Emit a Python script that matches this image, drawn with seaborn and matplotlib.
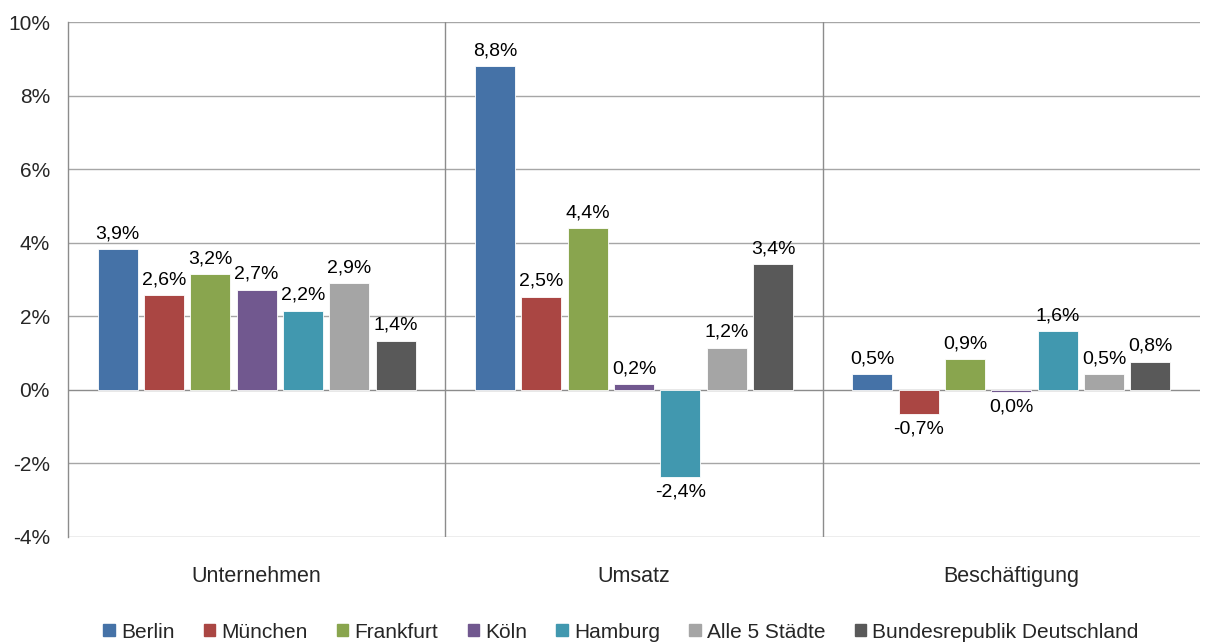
import matplotlib
matplotlib.use("Agg")
import matplotlib.pyplot as plt
import seaborn as sns
import pandas as pd

categories = ["Unternehmen", "Umsatz", "Beschäftigung"]
series = ["Berlin", "München", "Frankfurt", "Köln", "Hamburg", "Alle 5 Städte", "Bundesrepublik Deutschland"]
values = {
    "Berlin":                     [3.83, 8.80, 0.43],
    "München":                    [2.58, 2.53, -0.65],
    "Frankfurt":                  [3.15, 4.40, 0.84],
    "Köln":                       [2.72, 0.16, -0.05],
    "Hamburg":                    [2.15, -2.36, 1.60],
    "Alle 5 Städte":              [2.90, 1.14, 0.43],
    "Bundesrepublik Deutschland": [1.33, 3.42, 0.76],
}
labels = {
    "Berlin":                     ["3,9%", "8,8%", "0,5%"],
    "München":                    ["2,6%", "2,5%", "-0,7%"],
    "Frankfurt":                  ["3,2%", "4,4%", "0,9%"],
    "Köln":                       ["2,7%", "0,2%", "0,0%"],
    "Hamburg":                    ["2,2%", "-2,4%", "1,6%"],
    "Alle 5 Städte":              ["2,9%", "1,2%", "0,5%"],
    "Bundesrepublik Deutschland": ["1,4%", "3,4%", "0,8%"],
}
colors = ["#4572A7", "#AA4643", "#89A54E", "#71588F", "#4198AF", "#A5A5A5", "#595959"]
y_ticks = [-4, -2, 0, 2, 4, 6, 8, 10]
y_ticklabels = ["-4%", "-2%", "0%", "2%", "4%", "6%", "8%", "10%"]

rows = []
for s in series:
    for c, v in zip(categories, values[s]):
        rows.append({"Kategorie": c, "Stadt": s, "Wert": v})
df = pd.DataFrame(rows)

sns.set_theme(style="white")
plt.rcParams["font.family"] = ["Liberation Sans", "DejaVu Sans"]

fig = plt.figure(figsize=(12.05, 6.44), dpi=100)
ax = fig.add_axes([68/1205, 1-537/644, (1200-68)/1205, (537-22)/644])

sns.barplot(data=df, x="Kategorie", y="Wert", hue="Stadt", order=categories,
            hue_order=series, palette=colors, saturation=1, width=0.86, gap=0.14,
            ax=ax, legend=True, zorder=3, linewidth=0.6, edgecolor="#FFFFFF")

for s, cont in zip(series, ax.containers):
    ax.bar_label(cont, labels=labels[s], padding=5, fontsize=14, color="black")

ax.set_ylim(-4, 10)
ax.set_xlim(-0.5, 2.5)
ax.set_yticks(y_ticks)
ax.set_yticklabels(y_ticklabels, fontsize=15)
ax.tick_params(axis="y", length=0, pad=13)
ax.tick_params(axis="x", length=0, pad=21, labelsize=15.5)
ax.set_xlabel("")
ax.set_ylabel("")

for yv in y_ticks:
    ax.axhline(yv, color="#A6A6A6" if yv != 0 else "#8C8C8C", lw=1.0, zorder=1)
for xv in [0.5, 1.5]:
    ax.axvline(xv, color="#8C8C8C", lw=1.0, zorder=1)

for side in ["top", "right", "bottom"]:
    ax.spines[side].set_visible(False)
ax.spines["left"].set_color("#8C8C8C")
ax.spines["left"].set_linewidth(1.0)

leg = ax.get_legend()
if leg is not None:
    leg.remove()
handles = [plt.Rectangle((0, 0), 1, 1, color=c) for c in colors]
fig.legend(handles, series, loc="center", bbox_to_anchor=(621/1205, 1-632/644),
           ncol=7, frameon=False, fontsize=15, handlelength=0.55, handleheight=0.55,
           handletextpad=0.3, columnspacing=1.4, borderaxespad=0)

fig.savefig("out.png", dpi=100)
